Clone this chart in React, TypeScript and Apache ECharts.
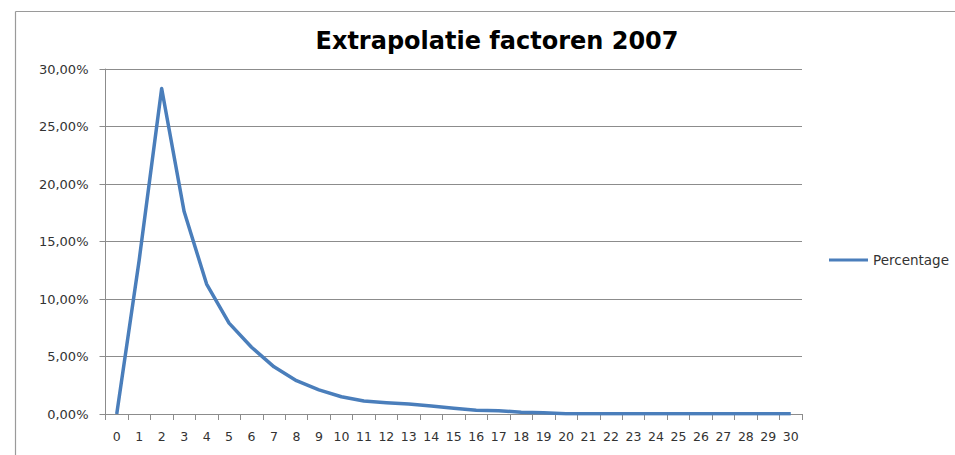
import React, { useEffect, useRef } from "react";
import * as echarts from "echarts";

const categories: string[] = Array.from({ length: 31 }, (_, i) => String(i));
const percentage: number[] = [
  0, 13.4, 28.3, 17.6, 11.3, 7.9, 5.8, 4.1, 2.9, 2.1,
  1.5, 1.13, 0.98, 0.87, 0.7, 0.5, 0.32, 0.29, 0.15, 0.1,
  0.02, 0.02, 0.02, 0.02, 0.02, 0.02, 0.02, 0.02, 0.02, 0.02, 0.02,
];
const seriesName = "Percentage";
const titleText = "Extrapolatie factoren 2007";

const FONT = "DejaVu Sans";

export default function App() {
  const ref = useRef<HTMLDivElement>(null);
  useEffect(() => {
    if (!ref.current) return;
    const chart = echarts.init(ref.current, undefined, { renderer: "svg" });
    chart.setOption({
      animation: false,
      backgroundColor: "#ffffff",
      title: {
        text: titleText,
        left: 492,
        top: 24,
        textAlign: "center",
        textStyle: { fontFamily: FONT, fontWeight: "bold", fontSize: 24, color: "#000" },
      },
      graphic: [
        {
          type: "line",
          shape: { x1: 15.5, y1: 11.5, x2: 955, y2: 11.5 },
          style: { stroke: "#9a9a9a", lineWidth: 1.2 },
          silent: true,
        },
        {
          type: "line",
          shape: { x1: 15.5, y1: 11.5, x2: 15.5, y2: 455 },
          style: { stroke: "#9a9a9a", lineWidth: 1.2 },
          silent: true,
        },
      ],
      legend: {
        data: [seriesName],
        left: 824,
        top: 248,
        icon: "rect",
        itemWidth: 39,
        itemHeight: 3,
        itemGap: 2,
        textStyle: { fontFamily: FONT, fontSize: 13.5, color: "#333" },
      },
      grid: { left: 105.5, right: 153, top: 69, bottom: 41, containLabel: false },
      xAxis: {
        type: "category",
        data: categories,
        boundaryGap: true,
        axisLine: { lineStyle: { color: "#8c8c8c", width: 1 } },
        axisTick: { show: true, length: 6, alignWithLabel: false, interval: 0, lineStyle: { color: "#8c8c8c" } },
        axisLabel: { interval: 0, margin: 16, fontFamily: FONT, fontSize: 12.5, color: "#333" },
        splitLine: { show: false },
      },
      yAxis: {
        type: "value",
        min: 0,
        max: 30,
        interval: 5,
        axisLine: { show: true, lineStyle: { color: "#8c8c8c", width: 1 } },
        axisTick: { show: true, length: 6, lineStyle: { color: "#8c8c8c" } },
        axisLabel: {
          margin: 17,
          fontFamily: FONT,
          fontSize: 13,
          color: "#333",
          formatter: (v: number) => v.toFixed(2).replace(".", ",") + "%",
        },
        splitLine: { show: true, lineStyle: { color: "#8c8c8c", width: 1 } },
      },
      series: [
        {
          name: seriesName,
          type: "line",
          data: percentage,
          showSymbol: false,
          symbol: "none",
          lineStyle: { color: "#4a7ebb", width: 3.5, join: "round" },
          itemStyle: { color: "#4a7ebb" },
        },
      ],
    });
    return () => chart.dispose();
  }, []);
  return (
    <div
      ref={ref}
      style={{ position: "fixed", left: 0, top: 0, width: 955, height: 455 }}
    />
  );
}
